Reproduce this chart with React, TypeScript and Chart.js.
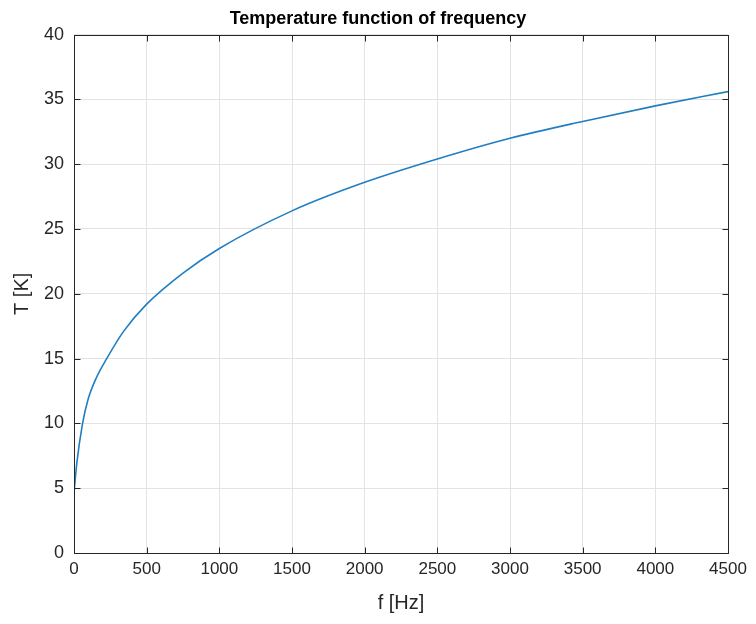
import React, { useEffect, useRef } from "react";
import { Chart, registerables } from "chart.js";

Chart.register(...registerables);

const freqHz = [0, 18, 59, 98, 157, 225, 341, 500, 750, 1000, 1500, 2000, 2500, 3000, 3500, 4000, 4500];
const tempK = [4.6, 6.8, 10.0, 11.9, 13.6, 15.0, 17.1, 19.2, 21.6, 23.5, 26.4, 28.6, 30.4, 32.0, 33.3, 34.5, 35.6];

const titleText = "Temperature function of frequency";
const xLabel = "f [Hz]";
const yLabel = "T [K]";
const xTicks = [0, 500, 1000, 1500, 2000, 2500, 3000, 3500, 4000, 4500];
const yTicks = [0, 5, 10, 15, 20, 25, 30, 35, 40];

const AXIS_COLOR = "#262626";
const FONT = "'Liberation Sans', Arial, Helvetica, sans-serif";

const boxPlugin = {
  id: "matlabBox",
  afterDraw(chart: any) {
    const { ctx, chartArea } = chart;
    const { left, right, top, bottom } = chartArea;
    const xs = chart.scales.x;
    const ys = chart.scales.y;
    ctx.save();
    ctx.strokeStyle = AXIS_COLOR;
    ctx.lineWidth = 1;
    const L = Math.round(left) + 0.5;
    const R = Math.round(right) + 0.5;
    const T = Math.round(top) + 0.5;
    const B = Math.round(bottom) + 0.5;
    ctx.strokeRect(L, T, R - L, B - T);
    const tl = 6;
    ctx.beginPath();
    for (const v of xTicks) {
      const px = Math.round(xs.getPixelForValue(v)) + 0.5;
      ctx.moveTo(px, B);
      ctx.lineTo(px, B - tl);
      ctx.moveTo(px, T);
      ctx.lineTo(px, T + tl);
    }
    for (const v of yTicks) {
      const py = Math.round(ys.getPixelForValue(v)) + 0.5;
      ctx.moveTo(L, py);
      ctx.lineTo(L + tl, py);
      ctx.moveTo(R, py);
      ctx.lineTo(R - tl, py);
    }
    ctx.stroke();
    ctx.restore();
  },
};

export default function App() {
  const ref = useRef<HTMLCanvasElement | null>(null);

  useEffect(() => {
    if (!ref.current) return;
    const points = freqHz.map((f, i) => ({ x: f, y: tempK[i] }));
    const chart = new Chart(ref.current, {
      type: "line",
      data: {
        datasets: [
          {
            data: points,
            borderColor: "#1f7fc2",
            borderWidth: 1.6,
            pointRadius: 0,
            fill: false,
            cubicInterpolationMode: "monotone",
            xAxisID: "x",
            yAxisID: "y",
          },
        ],
      },
      options: {
        animation: false,
        responsive: true,
        maintainAspectRatio: false,
        layout: { padding: { left: 0, right: 0, top: 0, bottom: 0 } },
        plugins: {
          legend: { display: false },
          tooltip: { enabled: false },
          title: {
            display: true,
            text: titleText,
            color: "#000",
            font: { family: FONT, size: 18, weight: "bold" },
            padding: { top: 0, bottom: 5 },
          },
        },
        scales: {
          x: {
            type: "linear",
            min: 0,
            max: 4500,
            afterBuildTicks: (scale: any) => {
              scale.ticks = xTicks.map((v) => ({ value: v }));
            },
            afterFit: (scale: any) => {
              scale.height = 63;
              scale.paddingLeft = 0;
              scale.paddingRight = 0;
            },
            ticks: {
              color: AXIS_COLOR,
              font: { family: FONT, size: 17 },
              padding: 6,
              maxRotation: 0,
              autoSkip: false,
              callback: (v: any) => String(v),
            },
            grid: { color: "#e3e3e3", drawTicks: false },
            border: { display: false },
            title: {
              display: true,
              text: xLabel,
              color: AXIS_COLOR,
              font: { family: FONT, size: 20 },
              padding: { top: 2, bottom: 1 },
            },
          },
          y: {
            type: "linear",
            position: "left",
            min: 0,
            max: 40,
            afterBuildTicks: (scale: any) => {
              scale.ticks = yTicks.map((v) => ({ value: v }));
            },
            afterFit: (scale: any) => {
              scale.width = 74;
              scale.paddingTop = 0;
              scale.paddingBottom = 0;
            },
            ticks: {
              color: AXIS_COLOR,
              font: { family: FONT, size: 18 },
              padding: 10,
              autoSkip: false,
              callback: (v: any) => String(v),
            },
            grid: { color: "#e3e3e3", drawTicks: false },
            border: { display: false },
            title: {
              display: true,
              text: yLabel,
              color: AXIS_COLOR,
              font: { family: FONT, size: 20 },
              padding: { top: 10, bottom: 2 },
            },
          },
          yRight: {
            type: "linear",
            position: "right",
            display: true,
            min: 0,
            max: 40,
            afterFit: (scale: any) => {
              scale.width = 28;
              scale.paddingTop = 0;
              scale.paddingBottom = 0;
            },
            ticks: { display: false },
            grid: { display: false, drawTicks: false },
            border: { display: false },
            title: { display: false },
          },
        },
      },
      plugins: [boxPlugin],
    });
    return () => chart.destroy();
  }, []);

  return (
    <div style={{ width: 756, height: 608, marginLeft: -8, position: "relative" }}>
      <canvas ref={ref} />
    </div>
  );
}
